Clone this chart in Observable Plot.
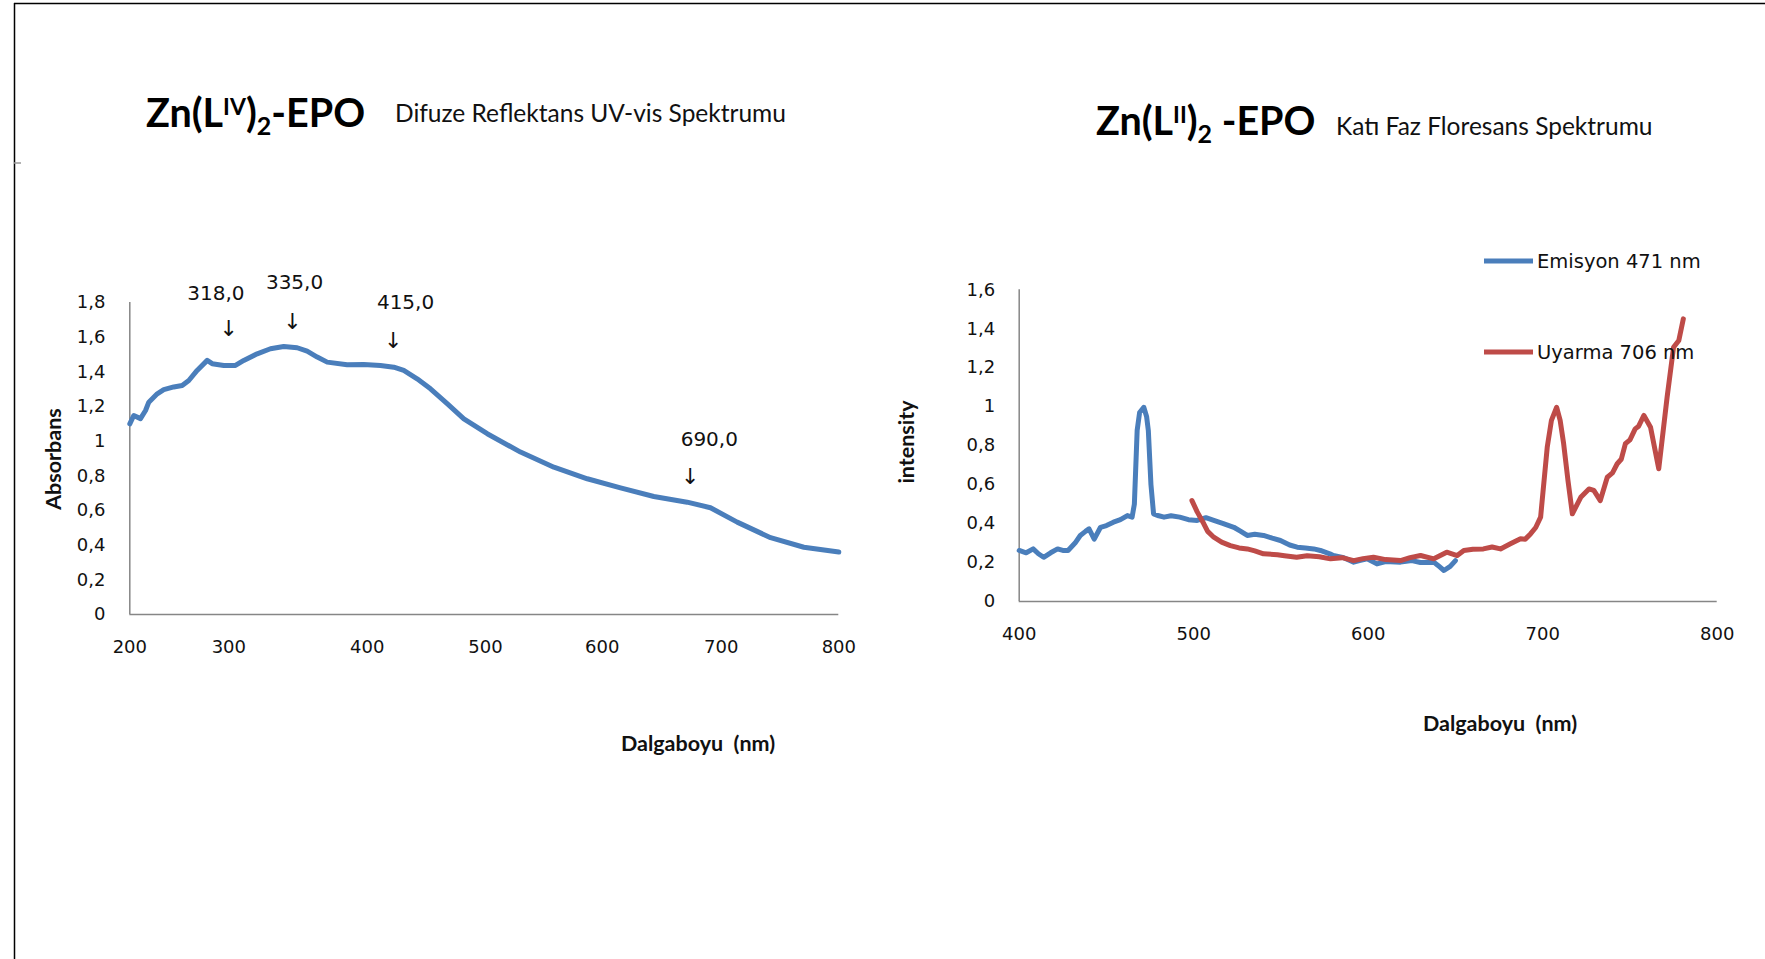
<!DOCTYPE html>
<html>
<head>
<meta charset="utf-8">
<script src="https://cdn.jsdelivr.net/npm/d3@7"></script>
<script src="https://cdn.jsdelivr.net/npm/@observablehq/plot@0.6"></script>
<style>
  body { margin: 0; background: #fff; }
  #page { position: relative; width: 1765px; height: 959px; overflow: hidden; background: #fff; }
  .pane { position: absolute; top: 0; }
  #overlay { position: absolute; left: 0; top: 0; pointer-events: none; }
  #overlay text { white-space: pre; }
</style>
</head>
<body>
<div id="page">
  <div id="leftPane" class="pane" style="left:0px"></div>
  <div id="rightPane" class="pane" style="left:880px"></div>
</div>
<script>
// ---------- data: left chart (diffuse reflectance UV-vis) ----------
const absWavelength = [200, 204, 210.8, 215.9, 219.2, 227.7, 234.3, 244.4, 252.9, 259.6, 268, 278.2, 283.2, 295, 304.8, 310.8, 320.5, 330.1, 339.7, 349.4, 356.6, 363.9, 371.1, 385.5, 397.5, 411.2, 422.5, 430.9, 442.2, 453.5, 467.6, 481.7, 501.5, 530, 558.6, 587.2, 615.4, 643.4, 671.4, 691, 713.6, 742, 770.3, 800];
const absValue      = [1.10, 1.148, 1.13, 1.177, 1.225, 1.273, 1.297, 1.313, 1.321, 1.35, 1.408, 1.466, 1.447, 1.437, 1.437, 1.466, 1.504, 1.533, 1.546, 1.539, 1.519, 1.485, 1.456, 1.441, 1.443, 1.437, 1.427, 1.408, 1.36, 1.302, 1.216, 1.129, 1.043, 0.937, 0.85, 0.783, 0.731, 0.681, 0.648, 0.616, 0.533, 0.443, 0.388, 0.36];
const leftXTicks = [200, 300, 400, 500, 600, 700, 800];
const leftYTicks = [0, 0.2, 0.4, 0.6, 0.8, 1, 1.2, 1.4, 1.6, 1.8];
const annoLabels = ["318,0", "335,0", "415,0", "690,0"];
const annoLabelX = [287, 347.5, 432.4, 690];
const annoLabelY = [1.85, 1.917, 1.80, 1.01];
const annoArrowX = [300, 346, 422, 674];
const annoArrowY = [1.65, 1.687, 1.58, 0.792];

// ---------- data: right chart (solid-state fluorescence) ----------
const emWavelength = [400, 404, 408, 411, 414, 418, 422, 425, 428, 432, 435, 438, 440, 443, 446.6, 450, 454, 458, 462, 464.7, 466, 467.6, 469, 471.4, 473, 474, 475.5, 477, 480, 483, 487, 492, 497, 502, 507, 511.5, 517, 523, 527, 530.7, 535, 540, 545, 549.7, 555, 559.3, 564, 568.8, 572.6, 578, 580, 586, 591.7, 595, 599.4, 605, 610, 618.5, 625, 630, 637.6, 640, 643.4, 647, 650];
const emValue      = [0.262, 0.25, 0.27, 0.245, 0.227, 0.25, 0.27, 0.262, 0.262, 0.30, 0.339, 0.36, 0.373, 0.32, 0.381, 0.39, 0.407, 0.42, 0.441, 0.433, 0.5, 0.878, 0.97, 0.997, 0.95, 0.878, 0.6, 0.45, 0.44, 0.433, 0.44, 0.433, 0.42, 0.416, 0.43, 0.416, 0.40, 0.381, 0.36, 0.339, 0.345, 0.339, 0.325, 0.313, 0.29, 0.279, 0.275, 0.27, 0.262, 0.245, 0.236, 0.225, 0.202, 0.21, 0.219, 0.193, 0.205, 0.202, 0.21, 0.2, 0.202, 0.185, 0.159, 0.18, 0.21];
const exWavelength = [499, 502, 505.8, 508, 511.5, 516, 521, 526, 530.7, 535, 540, 548, 552, 559, 565, 572, 578.4, 585, 591.7, 597, 603, 610, 618.5, 624, 630, 637.6, 645, 651, 654.8, 660, 666, 671, 675.8, 681.5, 687.3, 690, 693, 696, 698.8, 702.6, 705, 708, 710, 712, 714.5, 717, 721.8, 726.5, 729.3, 733, 737, 740, 742.7, 745, 747.4, 750, 753, 755, 758, 761.8, 766.5, 771.3, 775, 778, 780.6];
const exValue      = [0.518, 0.46, 0.399, 0.36, 0.33, 0.305, 0.287, 0.275, 0.27, 0.26, 0.245, 0.24, 0.235, 0.227, 0.235, 0.23, 0.219, 0.225, 0.21, 0.22, 0.227, 0.215, 0.21, 0.225, 0.236, 0.219, 0.253, 0.236, 0.262, 0.268, 0.27, 0.28, 0.27, 0.296, 0.322, 0.32, 0.347, 0.38, 0.433, 0.792, 0.93, 0.997, 0.93, 0.81, 0.62, 0.45, 0.535, 0.578, 0.57, 0.518, 0.638, 0.66, 0.707, 0.73, 0.81, 0.83, 0.886, 0.9, 0.955, 0.895, 0.681, 1.049, 1.305, 1.34, 1.451];
const rightXTicks = [400, 500, 600, 700, 800];
const rightYTicks = [0, 0.2, 0.4, 0.6, 0.8, 1, 1.2, 1.4, 1.6];
const seriesNames = ["Emisyon 471 nm", "Uyarma 706 nm"];

// ---------- build ----------
const BLUE = "#4a7ebb", RED = "#be4b48", AXIS = "#868686";
const commaFmt = d => String(Math.round(d * 10) / 10).replace(".", ",");
const absData = absWavelength.map((x, i) => ({x, y: absValue[i]}));
const annoData = annoLabels.map((label, i) => ({label, lx: annoLabelX[i], ly: annoLabelY[i], ax: annoArrowX[i], ay: annoArrowY[i]}));
const emData = emWavelength.map((x, i) => ({x, y: emValue[i]}));
const exData = exWavelength.map((x, i) => ({x, y: exValue[i]}));

const baseStyle = {fontFamily: "'DejaVu Sans', sans-serif", fontSize: "18px", color: "#111", background: "transparent", overflow: "visible", maxWidth: "none"};

const left = Plot.plot({
  width: 880, height: 959,
  marginLeft: 129, marginRight: 42, marginTop: 302, marginBottom: 345,
  style: baseStyle,
  x: {type: "linear", domain: leftXTicks, range: [129.3, 228.3, 366.7, 485, 601.7, 720.7, 838.3], ticks: leftXTicks, tickSize: 0, tickPadding: 26, label: null},
  y: {domain: [0, 1.8], ticks: leftYTicks, tickFormat: commaFmt, tickSize: 0, tickPadding: 24, label: null},
  marks: [
    Plot.ruleX([200], {y1: 0, y2: 1.8, stroke: AXIS, strokeWidth: 1.5}),
    Plot.ruleY([0], {x1: 200, x2: 800, stroke: AXIS, strokeWidth: 1.5}),
    Plot.line(absData, {x: "x", y: "y", stroke: BLUE, strokeWidth: 5, strokeLinejoin: "round"}),
    Plot.text(annoData, {x: "lx", y: "ly", text: "label", fontSize: 20, fill: "#111"}),
    Plot.text(annoData, {x: "ax", y: "ay", text: () => "↓", fontSize: 22, fill: "#111"})
  ]
});
document.getElementById("leftPane").appendChild(left);

const right = Plot.plot({
  width: 885, height: 959,
  marginLeft: 138.7, marginRight: 48.3, marginTop: 289.3, marginBottom: 358,
  style: baseStyle,
  x: {domain: [400, 800], ticks: rightXTicks, tickSize: 0, tickPadding: 26, label: null},
  y: {domain: [0, 1.6], ticks: rightYTicks, tickFormat: commaFmt, tickSize: 0, tickPadding: 24, label: null},
  marks: [
    Plot.ruleX([400], {y1: 0, y2: 1.6, stroke: AXIS, strokeWidth: 1.5}),
    Plot.ruleY([0], {stroke: AXIS, strokeWidth: 1.5}),
    Plot.line(emData, {x: "x", y: "y", stroke: BLUE, strokeWidth: 5, strokeLinejoin: "round"}),
    Plot.line(exData, {x: "x", y: "y", stroke: RED, strokeWidth: 5, strokeLinejoin: "round"})
  ]
});
document.getElementById("rightPane").appendChild(right);

// ---------- overlay: frame, titles, axis titles, legend ----------
const svg = d3.select("#page").append("svg").attr("id", "overlay")
  .attr("width", 1765).attr("height", 959);

svg.append("line").attr("x1", 14).attr("x2", 1765).attr("y1", 3.5).attr("y2", 3.5).attr("stroke", "#000").attr("stroke-width", 1.5);
svg.append("line").attr("x1", 14.5).attr("x2", 14.5).attr("y1", 3).attr("y2", 959).attr("stroke", "#000").attr("stroke-width", 1.5);
svg.append("line").attr("x1", 14).attr("x2", 21).attr("y1", 163).attr("y2", 163).attr("stroke", "#999").attr("stroke-width", 1.5);

function title(x, y, sup, gap) {
  const t = svg.append("text").attr("x", x).attr("y", y)
    .attr("font-family", "Lato, sans-serif").attr("font-weight", "bold").attr("font-size", 39.5).attr("fill", "#000");
  t.append("tspan").text("Zn(L");
  t.append("tspan").attr("font-size", 23).attr("dy", -12).text(sup);
  t.append("tspan").attr("dy", 12).text(")");
  t.append("tspan").attr("font-size", 25).attr("dy", 8).text("2");
  t.append("tspan").attr("dy", -8).text(gap + "-EPO");
}
title(146, 127, "IV", "");
title(1096, 135, "II", "\u00a0");

svg.append("text").attr("x", 395).attr("y", 122).attr("font-family", "Lato, sans-serif").attr("font-size", 24.5).attr("fill", "#111")
  .text("Difuze Reflektans UV-vis Spektrumu");
svg.append("text").attr("x", 1336).attr("y", 135).attr("font-family", "Lato, sans-serif").attr("font-size", 24.5).attr("fill", "#111")
  .text("Katı Faz Floresans Spektrumu");

const axisTitle = (x, y, text, rotate) => {
  svg.append("text").attr("text-anchor", "middle").attr("dominant-baseline", "central")
    .attr("font-family", "Lato, sans-serif").attr("font-weight", "bold").attr("font-size", 21.5).attr("fill", "#111")
    .attr("transform", `translate(${x},${y})` + (rotate ? " rotate(-90)" : "")).text(text);
};
axisTitle(698, 743, "Dalgaboyu\u00a0\u00a0(nm)", false);
axisTitle(1500, 723, "Dalgaboyu\u00a0\u00a0(nm)", false);
axisTitle(53, 459, "Absorbans", true);
axisTitle(906, 442, "intensity", true);

const legendColors = [BLUE, RED];
const legendY = [261, 352];
seriesNames.forEach((name, i) => {
  svg.append("line").attr("x1", 1484).attr("x2", 1533).attr("y1", legendY[i]).attr("y2", legendY[i])
    .attr("stroke", legendColors[i]).attr("stroke-width", 5);
  svg.append("text").attr("x", 1537).attr("y", legendY[i]).attr("dominant-baseline", "central")
    .attr("font-family", "'DejaVu Sans', sans-serif").attr("font-size", 19.5).attr("fill", "#111").text(name);
});
</script>
</body>
</html>
